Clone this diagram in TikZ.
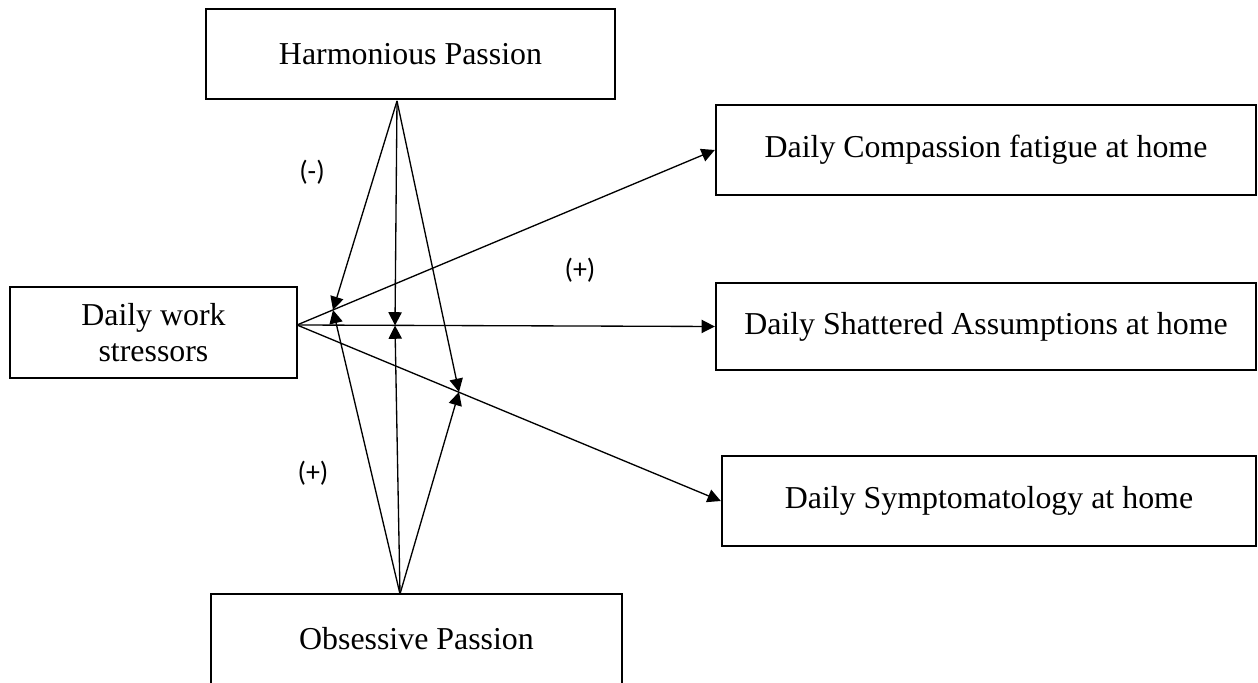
\documentclass[tikz,border=0pt]{standalone}
\usepackage{fontspec}
\setmainfont{Liberation Serif}
\newfontfamily\signfont{Carlito}
\usetikzlibrary{arrows.meta}

\begin{document}
\begin{tikzpicture}[
  x=0.01323cm, y=-0.01323cm,
  every node/.style={inner sep=2pt},
  var/.style={draw=black, line width=1pt, font=\fontsize{12}{13.5}\selectfont,
    align=center, minimum height=1.19cm},
  effect/.style={-{Triangle[length=5pt, width=5pt]}, line width=0.5pt},
  sign/.style={font=\signfont\fontsize{10.5}{12}\selectfont},
]
  \useasboundingbox (0,0) rectangle (1258,683);
  % Variables
  \node[var, minimum width=5.41cm] (hp) at (410.5,54) {Harmonious Passion};
  \node[var, minimum width=3.80cm, minimum height=1.20cm] (ws) at (153.5,332.5) {Daily work\\stressors};
  \node[var, minimum width=7.14cm] (cf) at (986,150) {Daily Compassion fatigue at home};
  \node[var, minimum width=7.14cm, minimum height=1.15cm] (sa) at (986,326.5) {Daily Shattered Assumptions at home};
  \node[var, minimum width=7.06cm] (sy) at (989,501) {Daily Symptomatology at home};
  \node[var, minimum width=5.44cm] (op) at (416.5,639) {Obsessive Passion};
  % Where the paths start and meet
  \coordinate (wsout) at (297,325);
  \coordinate (hpout) at (397,101);
  \coordinate (opout) at (400,594);
  \coordinate (m1) at (333,310);
  \coordinate (m2) at (395,325.5);
  \coordinate (m3) at (459,392);
  % Direct effects
  \draw[effect] (wsout) -- (cf.west);
  \draw[effect] (wsout) -- (sa.west);
  \draw[effect] (wsout) -- (sy.west);
  % Moderation by harmonious passion
  \draw[effect] (hpout) -- (m1);
  \draw[effect] (hpout) -- (m2);
  \draw[effect] (hpout) -- (m3);
  % Moderation by obsessive passion
  \draw[effect] (opout) -- (m1);
  \draw[effect] (opout) -- (m2);
  \draw[effect] (opout) -- (m3);
  % Signs
  \node[sign] (neg) at (312,172) {(-)};
  \node[sign] (posd) at (580,270) {(+)};
  \node[sign] (poso) at (313,473) {(+)};
\end{tikzpicture}
\end{document}
